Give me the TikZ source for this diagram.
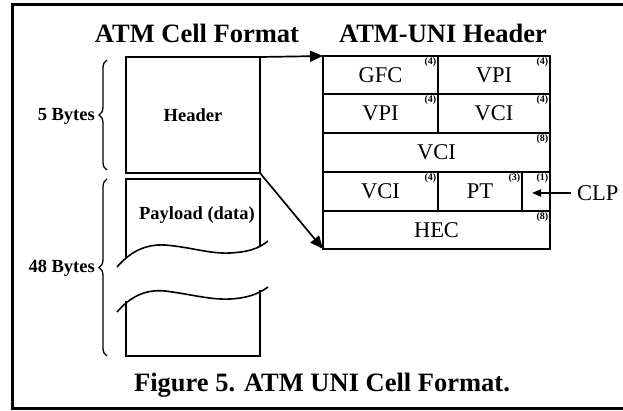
\documentclass[tikz,border=0pt]{standalone}
\usepackage{fontspec}
\setmainfont{Liberation Serif}
\usetikzlibrary{arrows.meta,decorations.pathreplacing}
\tikzset{
  px/.style={x=1pt,y=-1pt},
  frameline/.style={line width=3pt},
  boxline/.style={line width=1.6pt},
  cell/.style={draw, line width=1.6pt, inner sep=0pt, outer sep=0pt, anchor=north west,
    font=\fontsize{22.5}{24}\selectfont},
  bits/.style={inner sep=0pt, anchor=north east, font=\bfseries\fontsize{10}{10}\selectfont},
  title/.style={font=\bfseries\fontsize{26.5}{28}\selectfont},
  lbl/.style={font=\bfseries\fontsize{18.5}{20}\selectfont, inner sep=0pt},
  bigarrow/.style={line width=1.7pt, -{Triangle[length=13pt,width=11pt]}},
  smallarrow/.style={line width=1.7pt, -{Triangle[length=9pt,width=7pt]}},
  bytebrace/.style={decorate, decoration={brace, amplitude=8pt}, line width=1.3pt}
}
\begin{document}
\begin{tikzpicture}[px]
\useasboundingbox (0,0) rectangle (623,410);
% outer frame
\draw[frameline] (623,4) -- (12,4) -- (12,408) -- (623,408);

% titles
\node[title] (t1) at (197,33) {ATM Cell Format};
\node[title] (t2) at (443,33) {ATM-UNI Header};

% header part of the cell
\node[draw, boxline, minimum width=134pt, minimum height=116pt, inner sep=0pt, outer sep=0pt,
  font=\bfseries\fontsize{18.5}{20}\selectfont] (hdr) at (193,115) {Header};

% payload part of the cell, with the break in the middle
\draw[boxline] (126,257) -- (126,179) -- (260,179) -- (260,246);
\draw[boxline] (126,301) -- (126,356) -- (260,356) -- (260,290);
\draw[boxline] (117,267) .. controls (130,252) and (145,244) .. (165,245)
  .. controls (190,247) and (210,254) .. (230,253) .. controls (248,252) and (258,249) .. (268,241);
\draw[boxline] (117,312) .. controls (130,297) and (145,289) .. (165,291)
  .. controls (190,294) and (210,300) .. (230,299) .. controls (248,298) and (258,294) .. (268,287);
\node[lbl] (pay) at (197,215) {Payload (data)};

% byte braces
\coordinate (b5lo) at (107,170);
\coordinate (b5hi) at (107,60);
\coordinate (b48lo) at (107,356);
\coordinate (b48hi) at (107,179);
\draw[bytebrace] (b5lo) -- (b5hi);
\draw[bytebrace] (b48lo) -- (b48hi);
\node[lbl, anchor=east] (n5) at (95,116) {5 Bytes};
\node[lbl, anchor=east] (n48) at (95,268) {48 Bytes};

% ATM-UNI header fields
\node[cell, minimum width=115pt, minimum height=38pt] (gfc) at (323,56) {GFC};
\node[cell, minimum width=112pt, minimum height=38pt] (vpi1) at (438,56) {VPI};
\node[cell, minimum width=115pt, minimum height=39pt] (vpi2) at (323,94) {VPI};
\node[cell, minimum width=112pt, minimum height=39pt] (vci1) at (438,94) {VCI};
\node[cell, minimum width=227pt, minimum height=39pt] (vci2) at (323,133) {VCI};
\node[cell, minimum width=115pt, minimum height=39pt] (vci3) at (323,172) {VCI};
\node[cell, minimum width=84pt, minimum height=39pt] (pt) at (438,172) {PT};
\node[cell, minimum width=28pt, minimum height=39pt] (clp) at (522,172) {};
\node[cell, minimum width=227pt, minimum height=38pt] (hec) at (323,211) {HEC};

% field widths in bits
\node[bits] (w1) at ([xshift=-1.5pt,yshift=-1.5pt]gfc.north east) {(4)};
\node[bits] (w2) at ([xshift=-1.5pt,yshift=-1.5pt]vpi1.north east) {(4)};
\node[bits] (w3) at ([xshift=-1.5pt,yshift=-1.5pt]vpi2.north east) {(4)};
\node[bits] (w4) at ([xshift=-1.5pt,yshift=-1.5pt]vci1.north east) {(4)};
\node[bits] (w5) at ([xshift=-1.5pt,yshift=-1.5pt]vci2.north east) {(8)};
\node[bits] (w6) at ([xshift=-1.5pt,yshift=-1.5pt]vci3.north east) {(4)};
\node[bits] (w7) at ([xshift=-1.5pt,yshift=-1.5pt]pt.north east) {(3)};
\node[bits] (w8) at ([xshift=-1.5pt,yshift=-1.5pt]clp.north east) {(1)};
\node[bits] (w9) at ([xshift=-1.5pt,yshift=-1.5pt]hec.north east) {(8)};

% header expands into the fields
\draw[bigarrow] (hdr.north east) -- (gfc.north west);
\draw[bigarrow] (hdr.south east) -- (hec.south west);

% CLP label
\node[font=\fontsize{22.5}{24}\selectfont, anchor=west, inner sep=0pt] (clpt) at (577,193) {CLP};
\coordinate (clptip) at (532,193);
\draw[smallarrow] (clpt.west) ++(-6pt,0) coordinate (clptail) (clptail) -- (clptip);

% caption
\node[font=\bfseries\fontsize{26.5}{28}\selectfont] (cap) at (322,385) {Figure 5. ATM UNI Cell Format.};
\end{tikzpicture}
\end{document}
